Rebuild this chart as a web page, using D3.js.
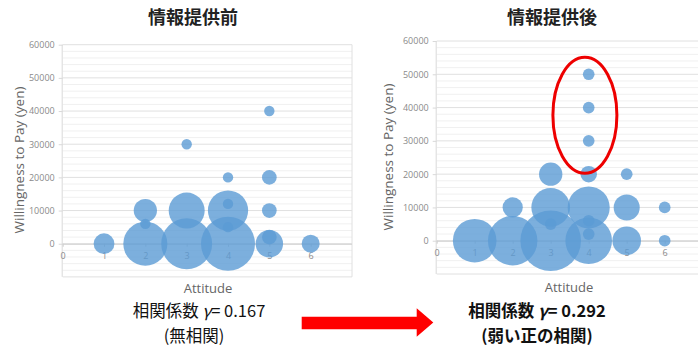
<!DOCTYPE html>
<html><head><meta charset="utf-8">
<script src="https://cdn.jsdelivr.net/npm/d3@7/dist/d3.min.js"></script>
<style>
html,body{margin:0;padding:0;background:#fff;overflow:hidden;}
svg{display:block;}
</style></head>
<body>
<svg id="c" width="698" height="347"></svg>
<script>
// ---- data ----
const titles = ["情報提供前", "情報提供後"];
const xTicks = [0, 1, 2, 3, 4, 5, 6];
const yTicks = [0, 10000, 20000, 30000, 40000, 50000, 60000];

const beforeX = [1, 2, 2, 2, 3, 3, 3, 4, 4, 4, 4, 4, 5, 5, 5, 5, 5, 6];
const beforeY = [0, 0, 10000, 6000, 0, 10000, 30000, 0, 10000, 12000, 5000, 20000, 0, 2000, 10000, 20000, 40000, 0];
const beforeN = [4, 18, 5, 1, 24, 12, 1, 27, 15, 1, 1, 1, 7, 2, 2, 2, 1, 3];

const afterX = [1, 2, 2, 3, 3, 3, 3, 4, 4, 4, 4, 4, 4, 4, 4, 5, 5, 5, 6, 6];
const afterY = [0, 0, 10000, 0, 5000, 10000, 20000, 0, 2000, 6000, 10000, 20000, 30000, 40000, 50000, 0, 10000, 20000, 0, 10000];
const afterN = [14, 18, 3, 27, 1, 11, 4, 16, 1, 1, 13, 2, 1, 1, 1, 6, 5, 1, 1, 1];

const corrBefore = "0.167", noteBefore = "(無相関)";
const corrAfter = "0.292", noteAfter = "(弱い正の相関)";

// ---- drawing ----
const svg = d3.select("#c");
const font = "'Open Sans', 'Noto Sans', sans-serif";
const jp = "'Noto Sans CJK JP', sans-serif";

function chart(cfg) {
  const g = svg.append("g");
  const x = d3.scaleLinear().domain([0, 7]).range([cfg.x0, cfg.x1]);
  const y = d3.scaleLinear().domain([-10000, 60000]).range([cfg.yb, cfg.yt]);
  const r = d3.scaleSqrt().domain([0, d3.max(cfg.n)]).range([0, cfg.maxR]);

  // minor grid
  const minor = d3.range(-10000, 60001, 2000).filter(v => v % 10000 !== 0);
  g.selectAll(".mn").data(minor).join("line")
    .attr("x1", x(0)).attr("x2", x(7)).attr("y1", d => y(d)).attr("y2", d => y(d))
    .attr("stroke", "#f0f0f0").attr("stroke-width", 1);
  // major grid
  const major = d3.range(-10000, 60001, 10000);
  g.selectAll(".mj").data(major).join("line")
    .attr("x1", x(0)).attr("x2", x(7)).attr("y1", d => y(d)).attr("y2", d => y(d))
    .attr("stroke", "#e0e0e0").attr("stroke-width", 1);
  // right border
  g.append("line").attr("x1", x(7)).attr("x2", x(7)).attr("y1", y(60000)).attr("y2", y(-10000))
    .attr("stroke", "#e0e0e0");

  // y axis
  const ya = g.append("g").attr("transform", `translate(${x(0)},0)`)
    .call(d3.axisLeft(y).tickValues(yTicks).tickSize(4).tickPadding(4).tickFormat(d3.format("d")));
  ya.select(".domain").attr("stroke", "#d9d9d9").attr("d", `M-0.5,${y(60000)}V${y(-10000)}`);
  ya.selectAll(".tick line").attr("stroke", "#d9d9d9");
  ya.selectAll("text").attr("fill", "#8a8a8a").attr("font-size", 9).attr("font-family", font);

  // x axis at y = 0
  const xa = g.append("g").attr("transform", `translate(0,${y(0)})`)
    .call(d3.axisBottom(x).tickValues(xTicks).tickSize(3).tickPadding(6).tickFormat(d3.format("d")));
  xa.select(".domain").attr("stroke", "#cfcfcf").attr("d", `M${x(0)},0.5H${x(7)}`);
  xa.selectAll(".tick line").attr("stroke", "#cfcfcf");
  xa.selectAll("text").attr("fill", "#8a8a8a").attr("font-size", 9).attr("font-family", font);

  // bubbles
  const pts = cfg.xs.map((v, i) => ({x: v, y: cfg.ys[i], n: cfg.n[i]}));
  g.selectAll(".b").data(pts).join("circle")
    .attr("cx", d => x(d.x)).attr("cy", d => y(d.y)).attr("r", d => r(d.n))
    .attr("fill", "#5b9bd5").attr("fill-opacity", 0.8);

  // axis titles
  g.append("text").attr("x", cfg.xtX).attr("y", cfg.xtY).attr("text-anchor", "middle")
    .attr("font-family", font).attr("font-size", 13).attr("fill", "#666").text("Attitude");
  g.append("text").attr("transform", `translate(${cfg.ytX},${cfg.ytY}) rotate(-90)`)
    .attr("text-anchor", "middle").attr("font-family", font).attr("font-size", 13.5)
    .attr("fill", "#666").text("Willingness to Pay (yen)");
  // title
  g.append("text").attr("x", cfg.tX).attr("y", 24).attr("text-anchor", "middle")
    .attr("font-family", jp).attr("font-weight", "bold").attr("font-size", 18)
    .attr("fill", "#222").text(cfg.title);
  return {x, y, g};
}

const left = chart({x0: 62.7, x1: 352, yb: 276.9, yt: 44.7, maxR: 27,
  xs: beforeX, ys: beforeY, n: beforeN, title: titles[0], tX: 193,
  xtX: 208, xtY: 293, ytX: 24, ytY: 160});
const right = chart({x0: 436.7, x1: 702.7, yb: 274, yt: 41, maxR: 30.3,
  xs: afterX, ys: afterY, n: afterN, title: titles[1], tX: 552,
  xtX: 569, xtY: 292, ytX: 393, ytY: 157});

// red ellipse highlighting the high values at attitude 4
right.g.append("ellipse")
  .attr("cx", right.x(3.9)).attr("cy", right.y(37700))
  .attr("rx", 32).attr("ry", (right.y(20300) - right.y(55100)) / 2)
  .attr("fill", "none").attr("stroke", "#ee0000").attr("stroke-width", 3);

// bottom texts
function corrText(cx, val, note, bold) {
  const t = svg.append("text").attr("x", cx).attr("y", 317).attr("text-anchor", "middle")
    .attr("font-family", jp).attr("font-size", 16.5).attr("fill", "#111")
    .attr("font-weight", bold ? "bold" : "normal");
  t.append("tspan").text("相関係数 ");
  t.append("tspan").attr("font-style", "italic").text("γ");
  t.append("tspan").text("= " + val);
  svg.append("text").attr("x", cx - (bold ? 0 : 5)).attr("y", 342).attr("text-anchor", "middle")
    .attr("font-family", jp).attr("font-size", 16.5).attr("fill", "#111")
    .attr("font-weight", bold ? "bold" : "normal").text(note);
}
corrText(199, corrBefore, noteBefore, false);
corrText(537, corrAfter, noteAfter, true);

// arrow
svg.append("path")
  .attr("d", "M301.7,316.7 H416.7 V308.3 L433.3,322.5 L416.7,336.7 V329.3 H301.7 Z")
  .attr("fill", "#ff0000");
</script>
</body></html>
